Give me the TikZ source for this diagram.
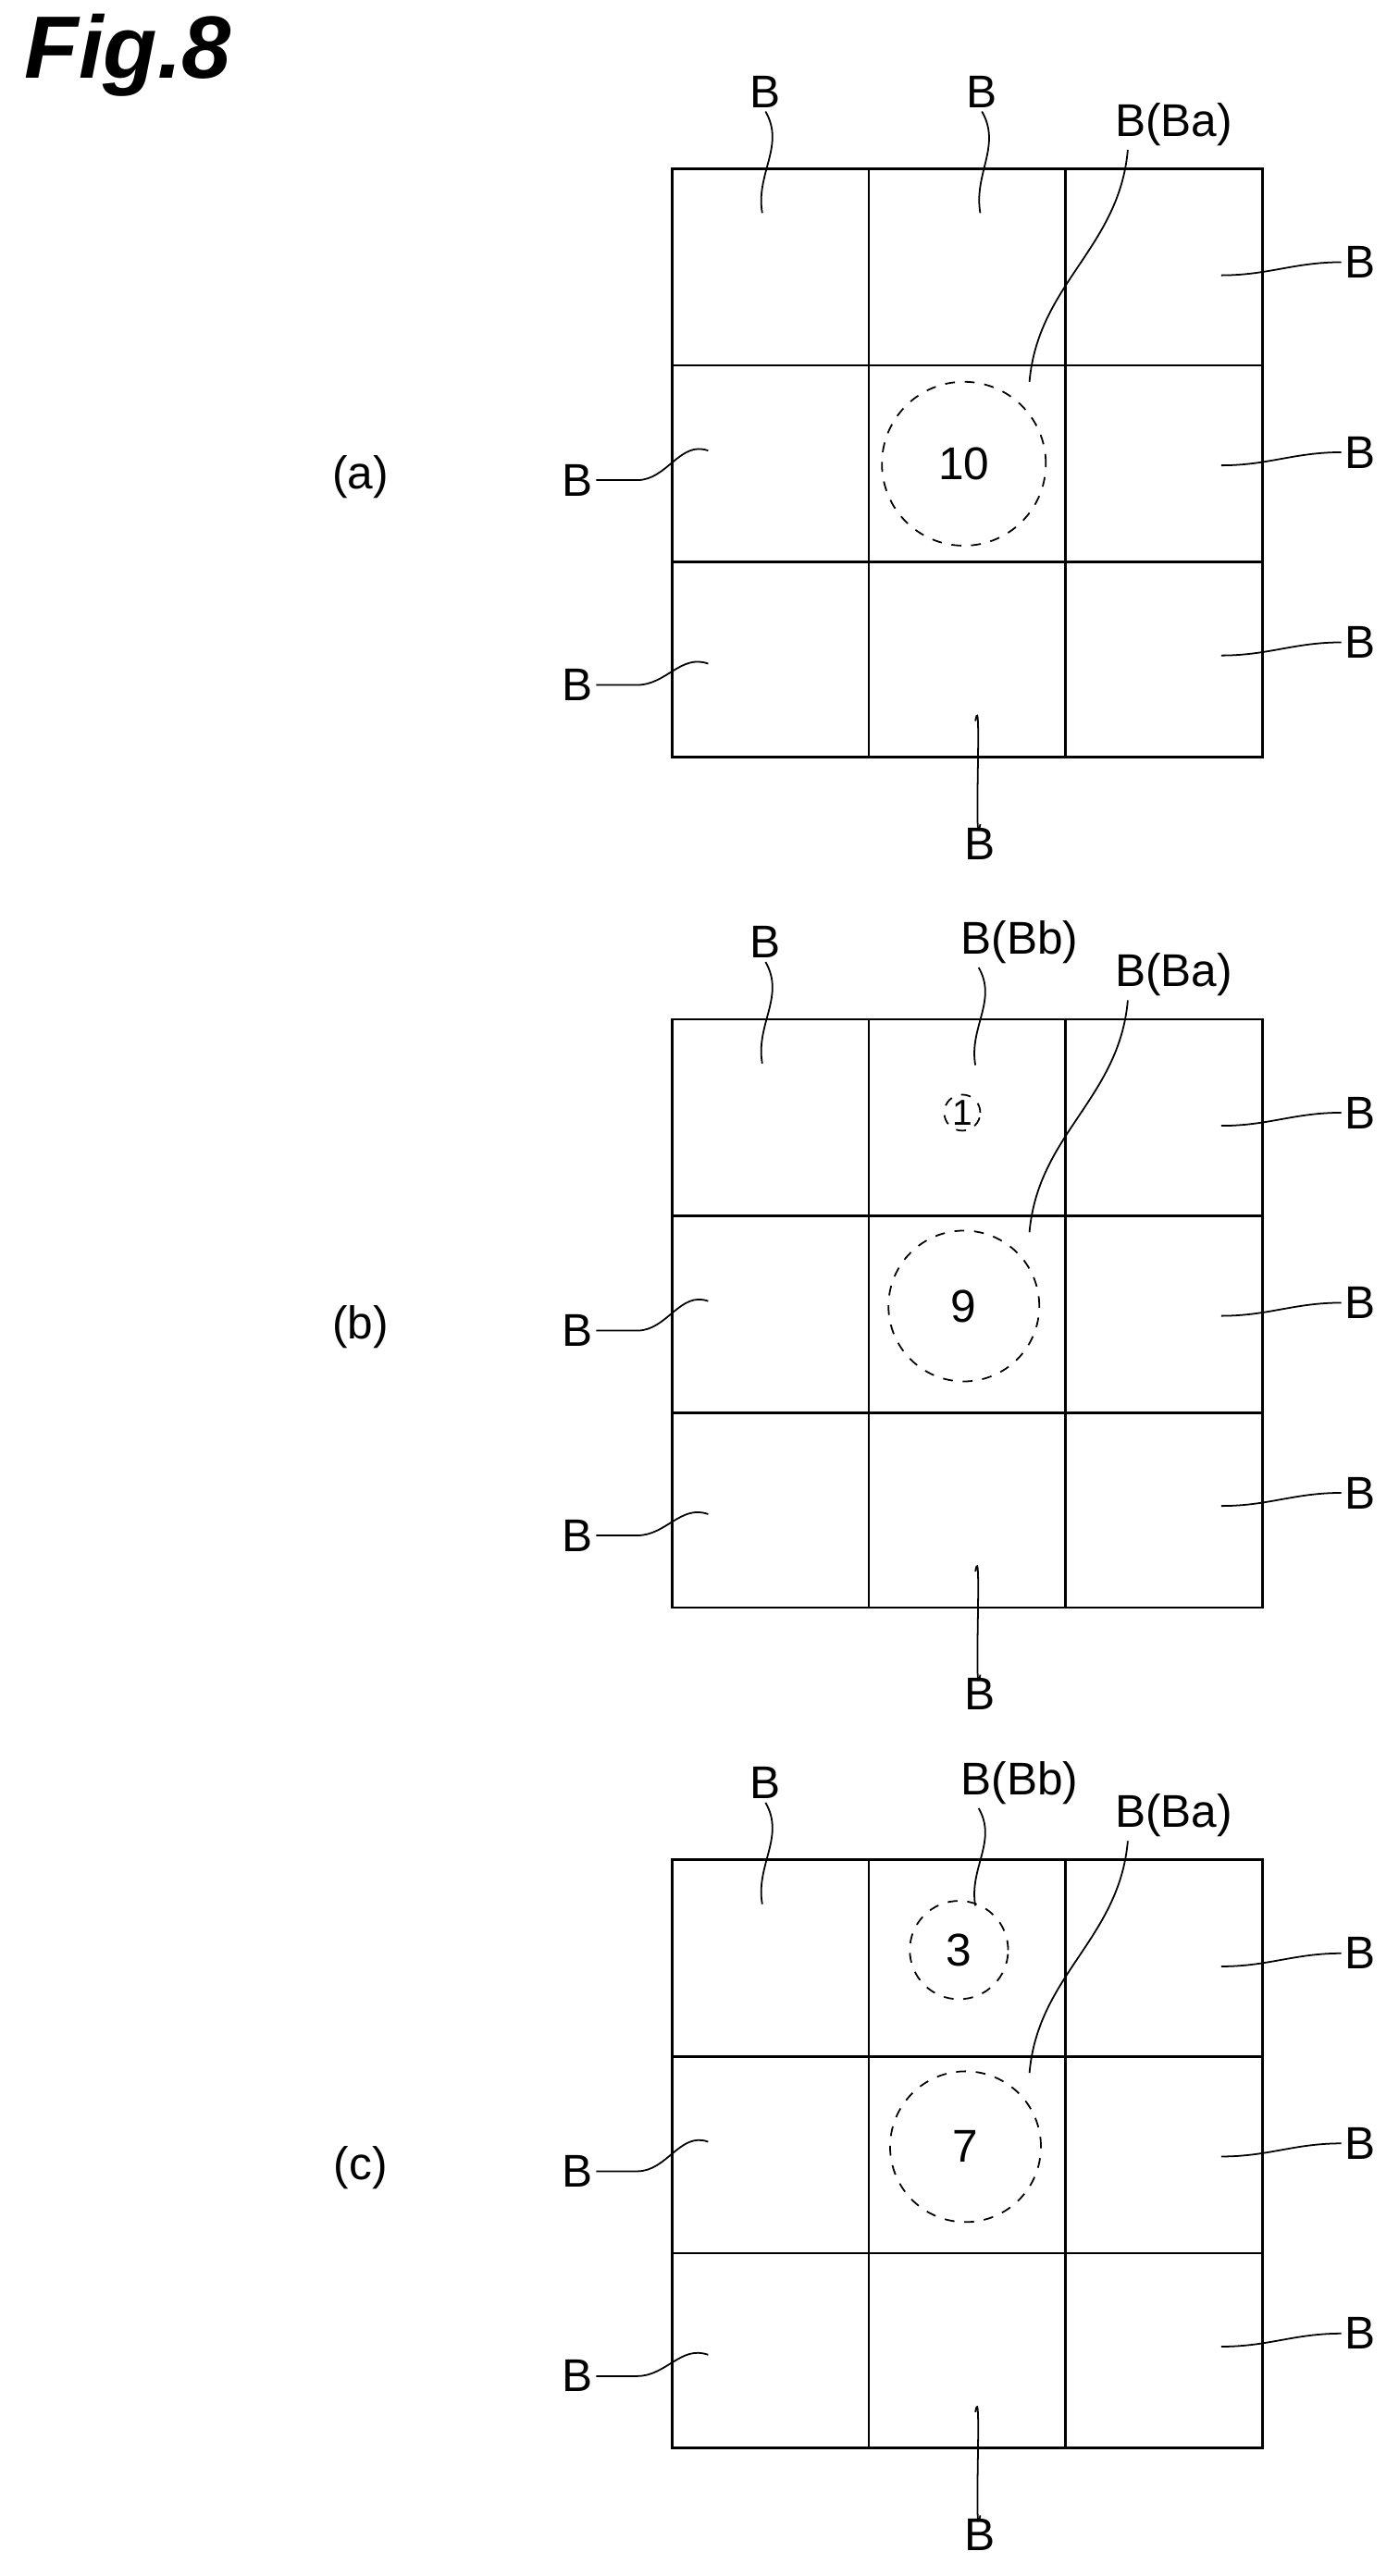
\documentclass[tikz,border=0pt]{standalone}
\usepackage{fontspec}
\setmainfont{Liberation Sans}
\begin{document}
\begin{tikzpicture}[x=0.5pt,y=-0.5pt,
  lbl/.style={font=\fontsize{14}{14}\selectfont, inner sep=1pt},
  grid/.style={line width=0.8pt},
  ldr/.style={line width=0.5pt},
  hole/.style={draw, circle, dashed, line width=0.5pt, font=\fontsize{14}{14}\selectfont, inner sep=0pt}]
\useasboundingbox (0,0) rectangle (853,1572);
\node[font=\fontsize{27}{27}\selectfont\bfseries\itshape, anchor=west] (fig) at (8,34) {Fig.8};
\foreach \dy/\tag in {0/a,519/b,1032/c}{
\begin{scope}[shift={(0,\dy)}]
  \draw[grid] (410,103) rectangle (770,462);
  \draw[grid] (530,103) -- (530,462) (650,103) -- (650,462) (410,223) -- (770,223) (410,343) -- (770,343);
  \node[lbl] (p\tag) at (220,291) {(\tag)};
  \node[lbl] (tl\tag) at (467,56) {B};
  \coordinate (tlc\tag) at (465,130);
  \draw[ldr] (tl\tag.south) to[out=-60,in=100] (tlc\tag);
  \foreach \yy/\n in {160/1,276/2,392/3}{
    \node[lbl] (r\n\tag) at (830,\yy) {B};
    \coordinate (rc\n\tag) at (745,\yy+8);
    \draw[ldr] (rc\n\tag) to[out=0,in=180] (r\n\tag.west);
  }
  \node[lbl] (l1\tag) at (352,293) {B};
  \coordinate (lc1\tag) at (432,275);
  \draw[ldr] (l1\tag.east) to[out=0,in=180] ++(25,0) to[out=0,in=160] (lc1\tag);
  \node[lbl] (l2\tag) at (352,418) {B};
  \coordinate (lc2\tag) at (432,405);
  \draw[ldr] (l2\tag.east) to[out=0,in=180] ++(25,0) to[out=0,in=160] (lc2\tag);
  \node[lbl] (bt\tag) at (598,515) {B};
  \coordinate (btc\tag) at (595,440);
  \draw[ldr] (btc\tag) to[out=80,in=-100] (bt\tag.north);
  \node[lbl] (ba\tag) at (716,76) {B(Ba)};
  \coordinate (bac\tag) at (628,233);
  \draw[ldr] (ba\tag.south) ++(-28,0) to[out=-95,in=85] (bac\tag);
\end{scope}}
% panel a specifics
\node[lbl] (tm) at (599,56) {B};
\coordinate (tmc) at (598,130);
\draw[ldr] (tm.south) to[out=-60,in=100] (tmc);
\node[hole, minimum size=100*0.5pt] (ca) at (588,283) {10};
% panel b
\begin{scope}[shift={(0,519)}]
  \node[lbl] (bbb) at (622,56) {B(Bb)};
  \coordinate (bbc) at (595,131);
  \draw[ldr] (bbb.south) ++(-25,0) to[out=-60,in=100] (bbc);
  \node[hole, minimum size=22*0.5pt, font=\fontsize{11}{11}\selectfont] (cb1) at (587,160) {1};
  \node[hole, minimum size=92*0.5pt] (cb2) at (588,278) {9};
\end{scope}
% panel c
\begin{scope}[shift={(0,1032)}]
  \node[lbl] (cbb) at (622,56) {B(Bb)};
  \coordinate (cbc) at (595,131);
  \draw[ldr] (cbb.south) ++(-25,0) to[out=-60,in=100] (cbc);
  \node[hole, minimum size=60*0.5pt] (cc1) at (585,158) {3};
  \node[hole, minimum size=92*0.5pt] (cc2) at (589,278) {7};
\end{scope}
\end{tikzpicture}
\end{document}
